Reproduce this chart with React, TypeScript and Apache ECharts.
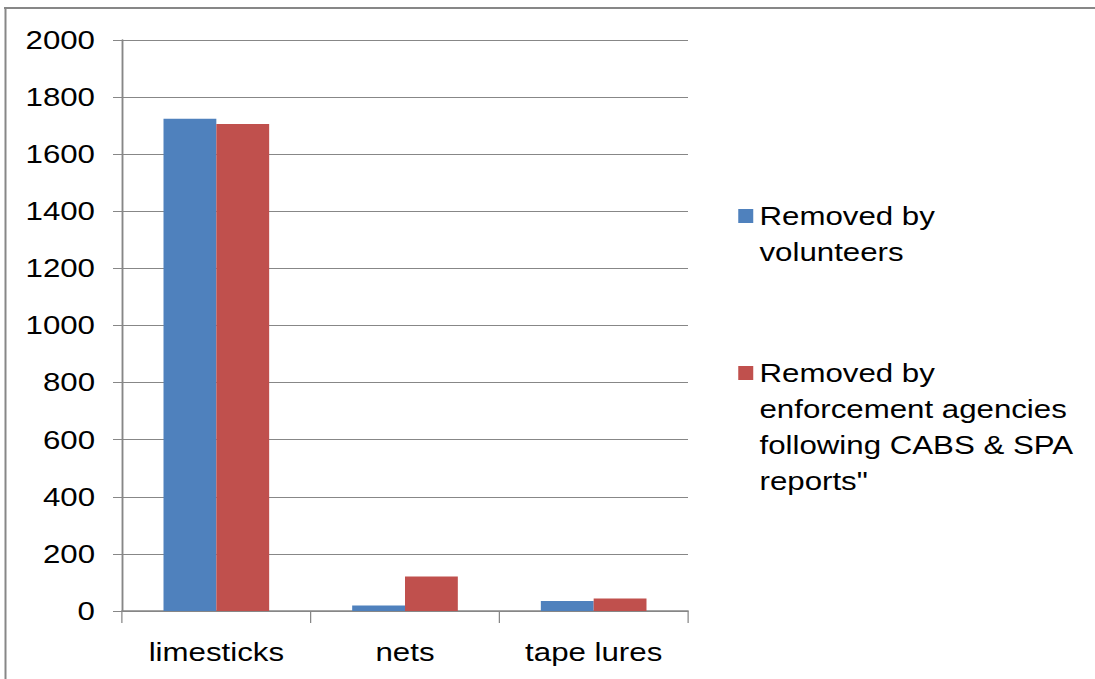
import React, { useEffect, useRef } from "react";
import * as echarts from "echarts";

const categories = ["limesticks", "nets", "tape lures"];
const volunteerName = "Removed by volunteers";
const agencyName = 'Removed by enforcement agencies following CABS & SPA reports"';
const volunteers = [1724, 19, 35];
const agencies = [1706, 121, 44];
const volunteerLines = ["Removed by", "volunteers"];
const agencyLines = ["Removed by", "enforcement agencies", "following CABS & SPA", 'reports"'];

const SX = 1.25;
const W = 1095 / SX;
const H = 679;
const px = (x: number) => x / SX;
const FONT = "'Liberation Sans', Arial, sans-serif";
const GRAY = "#878787";

function padLines(lines: string[]) {
  const blanks = new Array(lines.length - 1).fill("");
  return [...blanks, ...lines].join("\n");
}

export default function App() {
  const ref = useRef<HTMLDivElement>(null);
  useEffect(() => {
    const chart = echarts.init(ref.current!, null, { renderer: "svg" });
    const legendText = {
      fontFamily: FONT,
      fontSize: 25,
      color: "#000",
      lineHeight: 36,
    };
    chart.setOption({
      animation: false,
      backgroundColor: "#fff",
      textStyle: { fontFamily: FONT },
      graphic: [
        {
          type: "line",
          silent: true,
          shape: { x1: px(4), y1: 8, x2: W, y2: 8 },
          style: { stroke: GRAY, lineWidth: 2 },
        },
        {
          type: "line",
          silent: true,
          shape: { x1: px(5.5), y1: 7, x2: px(5.5), y2: H },
          style: { stroke: GRAY, lineWidth: 1.6 },
        },
      ],
      grid: {
        left: px(122),
        top: 40,
        width: px(688 - 122),
        height: 611 - 40,
        containLabel: false,
      },
      legend: [
        {
          data: [volunteerName],
          orient: "vertical",
          left: px(732),
          top: 215 - 54 - 4,
          itemWidth: px(15),
          itemHeight: 14,
          itemGap: 0,
          itemTextGap: px(2),
          icon: "rect",
          selectedMode: false,
          textStyle: legendText,
          formatter: () => padLines(volunteerLines),
        },
        {
          data: [agencyName],
          orient: "vertical",
          left: px(732),
          top: 373 - 126 - 5,
          itemWidth: px(15),
          itemHeight: 14,
          itemGap: 0,
          itemTextGap: px(2),
          icon: "rect",
          selectedMode: false,
          textStyle: legendText,
          formatter: () => padLines(agencyLines),
        },
      ],
      xAxis: {
        type: "category",
        data: categories,
        boundaryGap: true,
        axisLine: { show: true, lineStyle: { color: GRAY, width: 1.5 } },
        axisTick: { show: true, length: 12, alignWithLabel: false, lineStyle: { color: GRAY } },
        axisLabel: { color: "#000", fontSize: 25, fontFamily: FONT, margin: 29 },
        splitLine: { show: false },
      },
      yAxis: {
        type: "value",
        min: 0,
        max: 2000,
        interval: 200,
        axisLine: { show: true, lineStyle: { color: GRAY, width: 1.5 } },
        axisTick: { show: true, inside: false, length: px(9), lineStyle: { color: GRAY } },
        axisLabel: {
          color: "#000",
          fontSize: 25,
          fontFamily: FONT,
          margin: px(27),
          formatter: (v: number) => String(v),
        },
        splitLine: { show: true, lineStyle: { color: GRAY, width: 1 } },
      },
      series: [
        {
          name: volunteerName,
          type: "bar",
          data: volunteers,
          barGap: "0%",
          barCategoryGap: "44%",
          itemStyle: { color: "#4F81BD" },
        },
        {
          name: agencyName,
          type: "bar",
          data: agencies,
          barGap: "0%",
          barCategoryGap: "44%",
          itemStyle: { color: "#C0504D" },
        },
      ],
    });
    return () => chart.dispose();
  }, []);
  return (
    <div
      ref={ref}
      style={{
        position: "fixed",
        left: 0,
        top: 0,
        width: W,
        height: H,
        transform: `scaleX(${SX})`,
        transformOrigin: "0 0",
        background: "#fff",
      }}
    />
  );
}
